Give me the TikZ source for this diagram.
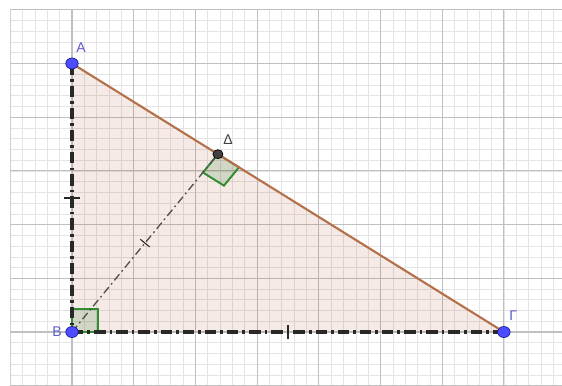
\documentclass[tikz,border=0pt]{standalone}
\usepackage{fontspec}
\setsansfont{Liberation Sans}
\usepackage{tikz}
\usetikzlibrary{positioning, calc}
\usepackage{xcolor}

\definecolor{gridminor}{RGB}{228,228,228}
\definecolor{gridmajor}{RGB}{192,192,192}
\definecolor{legdark}{RGB}{40,40,40}
\definecolor{altgray}{RGB}{80,80,80}
\definecolor{hypbrown}{RGB}{180,112,72}
\definecolor{trifill}{RGB}{153,51,0}
\definecolor{markgreen}{RGB}{50,140,50}
\definecolor{markfill}{RGB}{0,90,0}
\definecolor{ptblue}{RGB}{77,77,255}
\definecolor{ptborder}{RGB}{30,30,150}
\definecolor{labelblue}{RGB}{90,90,205}
\definecolor{ptgray}{RGB}{65,65,65}

\begin{document}
\begin{tikzpicture}[
    x=1.234cm, y=1.074cm,
    minorline/.style = {draw=gridminor, line width=0.35pt},
    majorline/.style = {draw=gridmajor, line width=0.6pt},
    leg/.style = {draw=legdark, line width=1.8pt, dash pattern=on 6.5pt off 2.3pt on 1.5pt off 2.3pt},
    altitude/.style = {draw=altgray, line width=0.75pt, dash pattern=on 4.5pt off 2pt on 1pt off 2pt},
    hyp/.style = {draw=hypbrown, line width=1.2pt},
    rightmark/.style = {draw=markgreen, fill=markfill, fill opacity=0.14, line width=1.1pt},
    tickmark/.style = {draw=legdark, line width=1.1pt},
    ptlabel/.style = {font=\sffamily\fontsize{8}{9}\selectfont, inner sep=0pt, text=labelblue}
]
\useasboundingbox (-1.44cm,-1.06cm) rectangle (9.8cm,6.64cm);

% Grid
\begin{scope}
\clip (-1,-1) rectangle (8,6);
\foreach \x in {-1,-0.8,...,8} \draw[minorline] (\x,-1) -- (\x,6);
\foreach \y in {-1,-0.8,...,6} \draw[minorline] (-1,\y) -- (8,\y);
\foreach \x in {-1,...,8} \draw[majorline] (\x,-1) -- (\x,6);
\foreach \y in {-1,...,6} \draw[majorline] (-1,\y) -- (8,\y);
\end{scope}

% Vertices and foot of the altitude
\coordinate (B) at (0,0);
\coordinate (A) at (0,5);
\coordinate (G) at (7,0);
\coordinate (D) at (2.365,3.311);

% Triangle area
\fill[trifill, fill opacity=0.1] (A) -- (B) -- (G) -- cycle;

% Right angles
\coordinate (bA) at ($(B)!0.084!(A)$);
\coordinate (bG) at ($(B)!0.06!(G)$);
\path[rightmark] (B) -- (bG) -- ($(bA)+(bG)-(B)$) -- (bA) -- cycle;
\coordinate (dB) at ($(D)!0.103!(B)$);
\coordinate (dG) at ($(D)!0.0737!(G)$);
\path[rightmark] (D) -- (dB) -- ($(dB)+(dG)-(D)$) -- (dG) -- cycle;

% Sides
\draw[leg] (A) -- (B);
\draw[leg] (B) -- (G);
\draw[altitude] (B) -- (D);
\draw[hyp] (A) -- (G);

% Equal-part ticks
\coordinate (mAB) at ($(A)!0.5!(B)$);
\coordinate (mBG) at ($(B)!0.5!(G)$);
\coordinate (mBD) at ($(B)!0.5!(D)$);
\draw[tickmark] ($(mAB)!0.16cm!90:(A)$) -- ($(mAB)!0.16cm!-90:(A)$);
\draw[tickmark] ($(mBG)!0.14cm!90:(G)$) -- ($(mBG)!0.14cm!-90:(G)$);
\draw[tickmark, line width=0.6pt] ($(mBD)!0.12cm!90:(D)$) -- ($(mBD)!0.12cm!-90:(D)$);

% Points
\foreach \p in {A,B,G}
  \filldraw[fill=ptblue, draw=ptborder, line width=0.4pt] (\p) ellipse [x radius=0.125cm, y radius=0.11cm];
\filldraw[fill=ptgray, draw=black, line width=0.4pt] (D) ellipse [x radius=0.1cm, y radius=0.09cm];

% Labels
\node[ptlabel, above right=0.22cm and 0.08cm of A] (lA) {A};
\node[ptlabel, left=0.2cm of B] (lB) {B};
\node[ptlabel, above right=0.22cm and 0.1cm of G] (lG) {Γ};
\node[ptlabel, text=ptgray, above right=0.18cm and 0.1cm of D] (lD) {Δ};

\end{tikzpicture}
\end{document}
